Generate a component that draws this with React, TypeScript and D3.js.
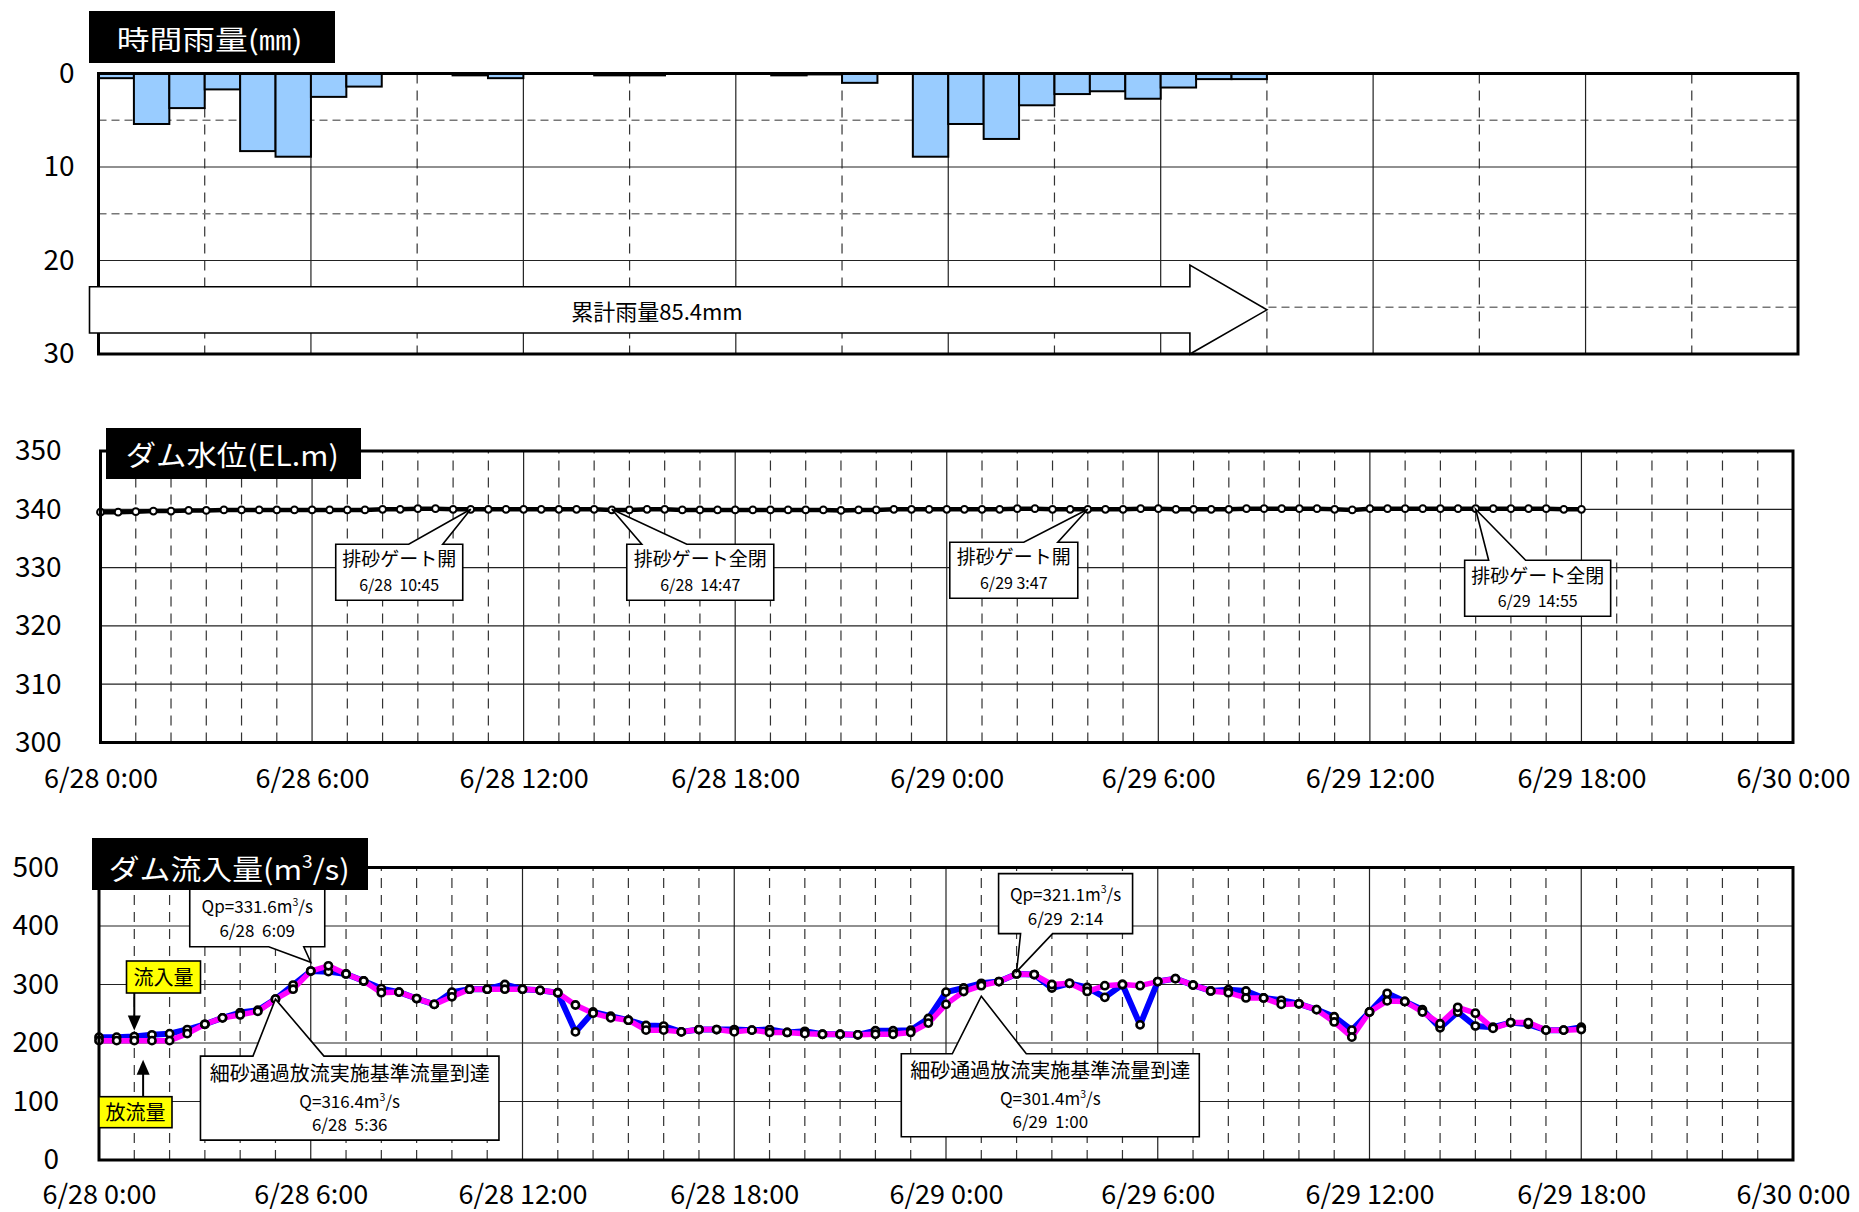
import { useEffect, useRef } from 'react'
import * as d3 from 'd3'

// ─── Canvas / fonts ─────────────────────────────────────────────────────────

const W = 1859
const H = 1212
const FONT = "'Noto Sans CJK JP', 'Noto Sans', sans-serif"

// ─── Data ───────────────────────────────────────────────────────────────────

// hourly rainfall (mm), bar i covers hour i..i+1 from 6/28 0:00
const rainMm = [
  0.5, 5.4, 3.7, 1.7, 8.3, 8.9, 2.5, 1.4, 0, 0, 0.2, 0.5,
  0, 0, 0.2, 0.2, 0, 0, 0, 0.2, 0.1, 1.0, 0, 8.9,
  5.4, 7.0, 3.4, 2.2, 1.9, 2.7, 1.5, 0.6, 0.6, 0, 0, 0,
  0, 0, 0, 0, 0, 0, 0, 0, 0, 0, 0, 0,
]
const rainTicks = [0, 10, 20, 30]
const rainTotalLabel = '累計雨量85.4mm'
const rainTotalEndHour = 33

// 30-minute readings, 6/28 0:00 → 6/29 18:00
const waterLevel = [
  339.5, 339.5, 339.6, 339.7, 339.7, 339.8, 339.8, 339.9, 339.9, 339.9,
  339.9, 339.9, 339.9, 339.9, 339.9, 339.9, 340.0, 340.0, 340.1, 340.1,
  340.0, 340.0, 340.0, 340.0, 340.0, 340.0, 340.0, 340.0, 340.0, 339.9,
  339.9, 340.0, 340.0, 339.9, 339.9, 339.9, 339.9, 339.9, 339.9, 339.9,
  339.9, 339.9, 339.8, 339.9, 339.9, 340.0, 340.0, 340.0, 340.0, 340.0,
  340.0, 340.0, 340.1, 340.1, 340.0, 340.0, 340.0, 340.0, 340.0, 340.1,
  340.1, 340.0, 340.0, 340.0, 340.0, 340.1, 340.1, 340.1, 340.1, 340.1,
  340.0, 339.9, 340.1, 340.1, 340.1, 340.1, 340.1, 340.1, 340.1, 340.1,
  340.1, 340.1, 340.1, 340.0, 340.0,
]
const levelTicks = [300, 310, 320, 330, 340, 350]

// 流入量 (blue) and 放流量 (magenta), m3/s, 30-minute readings
const inflow = [
  210, 210, 211, 214, 216, 223, 232, 243, 252, 256,
  275, 299, 323, 322, 318, 306, 293, 287, 276, 266,
  287, 292, 292, 300, 292, 290, 286, 219, 253, 246,
  239, 230, 229, 219, 223, 223, 223, 222, 223, 218,
  220, 215, 215, 214, 221, 221, 222, 242, 287, 294,
  302, 305, 318, 317, 294, 302, 295, 278, 300, 231,
  305, 310, 299, 289, 291, 289, 277, 273, 267, 257,
  245, 222, 253, 285, 271, 257, 226, 253, 229, 227,
  235, 232, 222, 222, 227,
]
const outflow = [
  204, 204, 204, 204, 204, 216, 232, 243, 248, 254,
  275, 292, 323, 332, 318, 306, 286, 287, 276, 266,
  279, 292, 292, 292, 292, 290, 286, 265, 251, 243,
  239, 222, 222, 219, 223, 223, 219, 222, 218, 218,
  216, 215, 215, 214, 215, 215, 218, 234, 266, 288,
  298, 305, 318, 317, 300, 302, 288, 298, 300, 298,
  305, 310, 299, 289, 286, 277, 277, 266, 267, 257,
  236, 210, 253, 272, 271, 253, 233, 261, 251, 225,
  235, 235, 222, 222, 223,
]
const flowTicks = [0, 100, 200, 300, 400, 500]

const timeTickHours = [0, 6, 12, 18, 24, 30, 36, 42, 48]
const timeTickLabels = [
  '6/28 0:00', '6/28 6:00', '6/28 12:00', '6/28 18:00', '6/29 0:00',
  '6/29 6:00', '6/29 12:00', '6/29 18:00', '6/30 0:00',
]

const gateNotes = [
  { lines: ['排砂ゲート開', '6/28  10:45'], hour: 10.5, level: 340 },
  { lines: ['排砂ゲート全閉', '6/28  14:47'], hour: 14.5, level: 340 },
  { lines: ['排砂ゲート開', '6/29 3:47'], hour: 28, level: 340 },
  { lines: ['排砂ゲート全閉', '6/29  14:55'], hour: 39, level: 340 },
]

const flowNotes = [
  { lines: ['Qp=331.6m³/s', '6/28  6:09'], hour: 6, flow: 338 },
  { lines: ['細砂通過放流実施基準流量到達', 'Q=316.4m³/s', '6/28  5:36'], hour: 5, flow: 275 },
  { lines: ['Qp=321.1m³/s', '6/29  2:14'], hour: 26, flow: 322 },
  { lines: ['細砂通過放流実施基準流量到達', 'Q=301.4m³/s', '6/29  1:00'], hour: 25, flow: 280 },
]

// ─── Layout (callout boxes relative to their tip) ───────────────────────────

interface BoxLayout {
  dx0: number; dx1: number; dy0: number; dy1: number
  wa: number; wb: number
  base: number[]; size: number[]
}

const gateBoxes: BoxLayout[] = [
  { dx0: -135, dx1: -8, dy0: 35, dy1: 91, wa: -62, wb: -28, base: [22, 47], size: [19, 16] },
  { dx0: 15, dx1: 162, dy0: 35, dy1: 91, wa: 30, wb: 75, base: [22, 47], size: [19, 16] },
  { dx0: -138, dx1: -10, dy0: 33, dy1: 89, wa: -64, wb: -30, base: [22, 47], size: [19, 16] },
  { dx0: -11, dx1: 135, dy0: 51, dy1: 107, wa: 13, wb: 50, base: [23, 47], size: [19, 16] },
]

const flowBoxes: BoxLayout[] = [
  { dx0: -121, dx1: 14, dy0: -74.5, dy1: -15.5, wa: -42, wb: -7, base: [25, 49], size: [17, 17] },
  { dx0: -75, dx1: 223.5, dy0: 57, dy1: 141, wa: -22.5, wb: 48.5, base: [25, 52, 75], size: [20, 17, 17] },
  { dx0: -18, dx1: 116, dy0: -98, dy1: -38, wa: 4, wb: 36, base: [27, 51], size: [17, 17] },
  { dx0: -80, dx1: 218, dy0: 57.6, dy1: 140.6, wa: -29, wb: 45, base: [24, 51, 74], size: [20, 17, 17] },
]

type Svg = d3.Selection<SVGSVGElement, unknown, null, undefined>
type Txt = d3.Selection<SVGTextElement, unknown, null, undefined>

// ─── Component ──────────────────────────────────────────────────────────────

export default function App() {
  const ref = useRef<SVGSVGElement>(null)

  useEffect(() => {
    if (!ref.current) return
    const svg = d3.select(ref.current)
    svg.selectAll('*').remove()
    svg.append('rect').attr('width', W).attr('height', H).attr('fill', '#fff')
    drawRain(svg)
    drawLevel(svg)
    drawFlow(svg)
  }, [])

  return (
    <svg
      ref={ref}
      width={W}
      height={H}
      viewBox={`0 0 ${W} ${H}`}
      style={{ position: 'absolute', left: 0, top: 0, display: 'block' }}
    />
  )
}

// ─── Rainfall ───────────────────────────────────────────────────────────────

function drawRain(svg: Svg) {
  const x = d3.scaleLinear().domain([0, 48]).range([98.5, 1798])
  const y = d3.scaleLinear().domain([0, 30]).range([73.5, 354])

  appendGrid(svg, x, y, {
    ySolid: [10, 20],
    yDashed: [5, 15, 25],
    xSolid: d3.range(6, 48, 6),
    xDashed: d3.range(3, 48, 6),
  })

  svg.append('g')
    .selectAll('rect')
    .data(rainMm.map((v, i) => ({ v, i })).filter((d) => d.v > 0))
    .join('rect')
    .attr('x', (d) => x(d.i))
    .attr('y', y(0))
    .attr('width', (d) => x(d.i + 1) - x(d.i))
    .attr('height', (d) => y(d.v) - y(0))
    .attr('fill', '#99CCFF')
    .attr('stroke', '#000')
    .attr('stroke-width', 2)

  appendFrame(svg, x, y)

  // cumulative rainfall arrow
  const left = x(0) - 9
  const tip = x(rainTotalEndHour)
  const headBase = tip - 77
  const bt = y(22.8)
  const bb = y(27.75)
  const ht = y(20.5)
  const hb = y(30)
  const my = (bt + bb) / 2
  svg.append('path')
    .attr('d', `M${left},${bt}L${headBase},${bt}L${headBase},${ht}L${tip},${my}L${headBase},${hb}L${headBase},${bb}L${left},${bb}Z`)
    .attr('fill', '#fff')
    .attr('stroke', '#000')
    .attr('stroke-width', 1.6)
  svg.append('text')
    .attr('x', 657)
    .attr('y', my + 10)
    .attr('text-anchor', 'middle')
    .attr('font-family', FONT)
    .attr('font-size', 22)
    .text(rainTotalLabel)

  appendYLabels(svg, y, rainTicks, x(0), 24)
  appendTitle(svg, [89, 11, 335, 63], 116.7, 50, 186, 27, '時間雨量(㎜)')
}

// ─── Water level ────────────────────────────────────────────────────────────

function drawLevel(svg: Svg) {
  const x = d3.scaleLinear().domain([0, 48]).range([100.5, 1793])
  const y = d3.scaleLinear().domain([300, 350]).range([742.5, 451])

  appendGrid(svg, x, y, {
    ySolid: [310, 320, 330, 340],
    yDashed: [],
    xSolid: d3.range(6, 48, 6),
    xDashed: d3.range(1, 48).filter((h) => h % 6 !== 0),
  })

  const pts = waterLevel.map((v, i) => [i * 0.5, v] as [number, number])
  svg.append('path')
    .datum(pts)
    .attr('d', d3.line<[number, number]>().x((d) => x(d[0])).y((d) => y(d[1])))
    .attr('fill', 'none')
    .attr('stroke', '#000')
    .attr('stroke-width', 4.5)
  svg.append('g')
    .selectAll('circle')
    .data(pts)
    .join('circle')
    .attr('cx', (d) => x(d[0]))
    .attr('cy', (d) => y(d[1]))
    .attr('r', 3.4)
    .attr('fill', '#fff')
    .attr('stroke', '#000')
    .attr('stroke-width', 2)

  appendFrame(svg, x, y)

  gateNotes.forEach((n, i) => appendCallout(svg, x(n.hour), y(n.level), n.lines, gateBoxes[i]))

  appendYLabels(svg, y, levelTicks, x(0), 39)
  appendXLabels(svg, x, y(300), 26)
  appendTitle(svg, [106, 428, 361, 479], 125.7, 466, 213, 28, 'ダム水位(EL.m)')
}

// ─── Inflow / outflow ───────────────────────────────────────────────────────

function drawFlow(svg: Svg) {
  const x = d3.scaleLinear().domain([0, 48]).range([99, 1793])
  const y = d3.scaleLinear().domain([0, 500]).range([1160, 867.5])

  appendGrid(svg, x, y, {
    ySolid: [100, 200, 300, 400],
    yDashed: [],
    xSolid: d3.range(6, 48, 6),
    xDashed: d3.range(1, 48).filter((h) => h % 6 !== 0),
  })

  const series = [
    { vals: inflow, color: '#0000FF', width: 6 },
    { vals: outflow, color: '#FF00FF', width: 5.5 },
  ]
  const line = d3.line<number>().x((_, i) => x(i * 0.5)).y((d) => y(d))
  series.forEach((s) => {
    svg.append('path')
      .datum(s.vals)
      .attr('d', line)
      .attr('fill', 'none')
      .attr('stroke', s.color)
      .attr('stroke-width', s.width)
      .attr('stroke-linejoin', 'round')
  })
  series.forEach((s) => {
    svg.append('g')
      .selectAll('circle')
      .data(s.vals)
      .join('circle')
      .attr('cx', (_, i) => x(i * 0.5))
      .attr('cy', (d) => y(d))
      .attr('r', 3.6)
      .attr('fill', '#fff')
      .attr('stroke', '#000')
      .attr('stroke-width', 2.6)
  })

  appendFrame(svg, x, y)

  flowNotes.forEach((n, i) => appendCallout(svg, x(n.hour), y(n.flow), n.lines, flowBoxes[i]))

  // series tags
  const inX = x(1)
  const inTip = y(inflow[2]) - 6
  appendTag(svg, [126.5, 961, 200.5, 993], '流入量')
  svg.append('line').attr('x1', inX).attr('x2', inX).attr('y1', 993).attr('y2', inTip - 12)
    .attr('stroke', '#000').attr('stroke-width', 2)
  svg.append('path')
    .attr('d', `M${inX - 6.5},${inTip - 15}L${inX + 6.5},${inTip - 15}L${inX},${inTip}Z`)
    .attr('fill', '#000')

  const outX = x(1.25)
  const outTip = y(outflow[2]) + 19
  appendTag(svg, [99, 1096.7, 172, 1127.7], '放流量')
  svg.append('line').attr('x1', outX).attr('x2', outX).attr('y1', 1096.7).attr('y2', outTip + 12)
    .attr('stroke', '#000').attr('stroke-width', 2)
  svg.append('path')
    .attr('d', `M${outX - 6.5},${outTip + 15}L${outX + 6.5},${outTip + 15}L${outX},${outTip}Z`)
    .attr('fill', '#000')

  appendYLabels(svg, y, flowTicks, x(0), 40)
  appendXLabels(svg, x, y(0), 25)
  appendTitle(svg, [92, 838, 368, 890], 108.7, 880, 241, 28, 'ダム流入量(m³/s)')
}

// ─── Shared helpers ─────────────────────────────────────────────────────────

function appendGrid(
  svg: Svg,
  x: d3.ScaleLinear<number, number>,
  y: d3.ScaleLinear<number, number>,
  o: { ySolid: number[]; yDashed: number[]; xSolid: number[]; xDashed: number[] },
) {
  const [x0, x1] = x.range()
  const [ya, yb] = y.range()
  const g = svg.append('g')
  g.selectAll('.xd').data(o.xDashed).join('line')
    .attr('x1', (d) => x(d)).attr('x2', (d) => x(d)).attr('y1', ya).attr('y2', yb)
    .attr('stroke', '#333').attr('stroke-width', 1.2).attr('stroke-dasharray', '10,7')
  g.selectAll('.yd').data(o.yDashed).join('line')
    .attr('x1', x0).attr('x2', x1).attr('y1', (d) => y(d)).attr('y2', (d) => y(d))
    .attr('stroke', '#777').attr('stroke-width', 1.6).attr('stroke-dasharray', '8,5')
  g.selectAll('.xs').data(o.xSolid).join('line')
    .attr('x1', (d) => x(d)).attr('x2', (d) => x(d)).attr('y1', ya).attr('y2', yb)
    .attr('stroke', '#222').attr('stroke-width', 1.2)
  g.selectAll('.ys').data(o.ySolid).join('line')
    .attr('x1', x0).attr('x2', x1).attr('y1', (d) => y(d)).attr('y2', (d) => y(d))
    .attr('stroke', '#222').attr('stroke-width', 1.2)
}

function appendFrame(svg: Svg, x: d3.ScaleLinear<number, number>, y: d3.ScaleLinear<number, number>) {
  const [x0, x1] = x.range()
  const yt = Math.min(...y.range())
  const yb = Math.max(...y.range())
  svg.append('rect')
    .attr('x', x0).attr('y', yt).attr('width', x1 - x0).attr('height', yb - yt)
    .attr('fill', 'none').attr('stroke', '#000').attr('stroke-width', 3)
}

function appendYLabels(svg: Svg, y: d3.ScaleLinear<number, number>, ticks: number[], x0: number, pad: number) {
  svg.append('g')
    .attr('transform', `translate(${x0},0)`)
    .call(d3.axisLeft(y).tickValues(ticks).tickSize(0).tickPadding(pad).tickFormat(d3.format('d')))
    .call((s) => s.select('.domain').remove())
    .call((s) => s.selectAll('text').attr('font-size', 28).attr('font-family', FONT).attr('fill', '#000'))
}

function appendXLabels(svg: Svg, x: d3.ScaleLinear<number, number>, yb: number, pad: number) {
  svg.append('g')
    .attr('transform', `translate(0,${yb})`)
    .call(
      d3.axisBottom(x)
        .tickValues(timeTickHours)
        .tickSize(0)
        .tickPadding(pad)
        .tickFormat((_, i) => timeTickLabels[i]),
    )
    .call((s) => s.select('.domain').remove())
    .call((s) => s.selectAll('text').attr('font-size', 27).attr('font-family', FONT).attr('fill', '#000'))
}

function richText(t: Txt, str: string, size: number) {
  str.split('³').forEach((part, i) => {
    if (i > 0) {
      t.append('tspan').attr('dy', -size * 0.42).attr('font-size', size * 0.62).text('3')
      t.append('tspan').attr('dy', size * 0.42).attr('font-size', size).text(part)
    } else {
      t.append('tspan').text(part)
    }
  })
}

function appendTitle(
  svg: Svg, box: number[], tx: number, ty: number, len: number, size: number, label: string,
) {
  svg.append('rect')
    .attr('x', box[0]).attr('y', box[1]).attr('width', box[2] - box[0]).attr('height', box[3] - box[1])
    .attr('fill', '#000')
  const t = svg.append('text')
    .attr('x', tx).attr('y', ty)
    .attr('font-family', FONT).attr('font-size', size).attr('fill', '#fff')
    .attr('textLength', len).attr('lengthAdjust', 'spacingAndGlyphs')
  richText(t, label, size)
}

function appendCallout(svg: Svg, tx: number, ty: number, lines: string[], b: BoxLayout) {
  const x0 = tx + b.dx0
  const x1 = tx + b.dx1
  const y0 = ty + b.dy0
  const y1 = ty + b.dy1
  const a = tx + b.wa
  const c = tx + b.wb
  const d = y0 > ty
    ? `M${x0},${y0}L${a},${y0}L${tx},${ty}L${c},${y0}L${x1},${y0}L${x1},${y1}L${x0},${y1}Z`
    : `M${x0},${y0}L${x1},${y0}L${x1},${y1}L${c},${y1}L${tx},${ty}L${a},${y1}L${x0},${y1}Z`
  svg.append('path').attr('d', d).attr('fill', '#fff').attr('stroke', '#000').attr('stroke-width', 1.6)
  lines.forEach((ln, i) => {
    const t = svg.append('text')
      .attr('x', (x0 + x1) / 2)
      .attr('y', y0 + b.base[i])
      .attr('text-anchor', 'middle')
      .attr('font-family', FONT)
      .attr('font-size', b.size[i])
      .style('white-space', 'pre')
    richText(t, ln, b.size[i])
  })
}

function appendTag(svg: Svg, box: number[], label: string) {
  svg.append('rect')
    .attr('x', box[0]).attr('y', box[1]).attr('width', box[2] - box[0]).attr('height', box[3] - box[1])
    .attr('fill', '#FFFF00').attr('stroke', '#000').attr('stroke-width', 1.6)
  svg.append('text')
    .attr('x', (box[0] + box[2]) / 2)
    .attr('y', box[3] - 8)
    .attr('text-anchor', 'middle')
    .attr('font-family', FONT)
    .attr('font-size', 20)
    .text(label)
}
